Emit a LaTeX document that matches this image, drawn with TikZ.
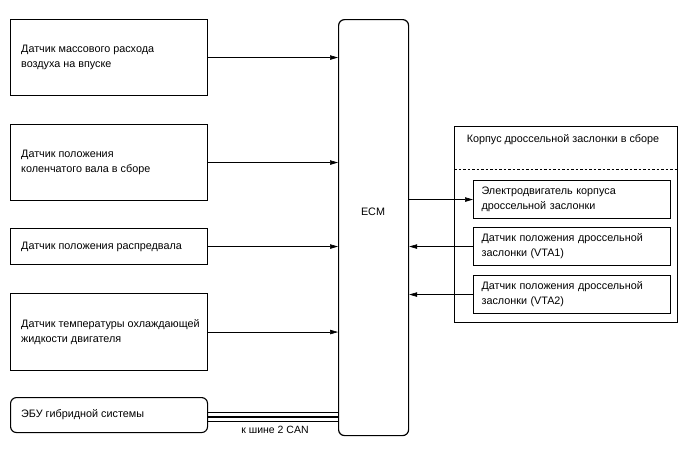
\documentclass[tikz,border=0pt]{standalone}
\usepackage{fontspec}
\setmainfont{Liberation Sans}
\usetikzlibrary{arrows.meta, positioning, calc}

\begin{document}
\begin{tikzpicture}[x=1pt, y=-1pt, every node/.style={font=\fontsize{10.8}{15}\selectfont},
    sensor/.style={draw, line width=1.1pt, rectangle, minimum width=197pt, anchor=north west},
    lbl/.style={anchor=west, align=left, inner sep=0pt, xshift=11pt},
    part/.style={draw, line width=1.1pt, rectangle, minimum width=197pt, minimum height=38pt, inner xsep=8pt, text width=181pt, align=left, anchor=north west},
    sig/.style={line width=0.6pt, -{Triangle[length=8pt, width=4.5pt]}},
    bus/.style={line width=1.5pt}]

    \useasboundingbox (0, 0) rectangle (688, 463);

    % ECM block
    \node[draw, line width=1.2pt, rounded corners=6pt, minimum width=70pt, minimum height=416pt, anchor=north west] (ecm) at (338, 19) {};
    \node at (373, 212) {ECM};

    % sensors on the left
    \node[sensor, minimum height=76pt] (maf) at (10, 19) {};
    \node[lbl] (maftxt) at (maf.west) {Датчик массового расхода\\воздуха на впуске};
    \node[sensor, minimum height=76pt] (ckp) at (10, 124) {};
    \node[lbl] (ckptxt) at (ckp.west) {Датчик положения\\коленчатого вала в сборе};
    \node[sensor, minimum height=36pt] (cmp) at (10, 228) {};
    \node[lbl] (cmptxt) at (cmp.west) {Датчик положения распредвала};
    \node[sensor, minimum height=77pt] (ect) at (10, 293) {};
    \node[lbl] (ecttxt) at (ect.west) {Датчик температуры охлаждающей\\жидкости двигателя};
    \node[sensor, minimum height=35pt, rounded corners=6pt] (hv) at (10, 397) {};
    \node[lbl] (hvtxt) at (hv.west) {ЭБУ гибридной системы};

    \draw[sig] (maf) -- (maf -| ecm.west);
    \draw[sig] (ckp) -- (ckp -| ecm.west);
    \draw[sig] (cmp) -- (cmp -| ecm.west);
    \draw[sig] (ect) -- (ect -| ecm.west);

    % CAN bus
    \foreach \d in {-2.5, 2, 6.5}
        \draw[bus] ([yshift=-\d pt]hv.east) -- ([yshift=-\d pt]hv.east -| ecm.west);
    \node[font=\fontsize{10.5}{12}\selectfont] (can) at (275, 430) {к шине 2 CAN};

    % throttle body assembly
    \node[draw, line width=1.1pt, minimum width=223pt, minimum height=196pt, anchor=north west] (tb) at (454, 126) {};
    \node (tbtitle) at (563, 140) {Корпус дроссельной заслонки в сборе};
    \draw[line width=0.9pt, dash pattern=on 2.5pt off 2pt] ([yshift=-43pt]tb.north west) -- ([yshift=-43pt]tb.north east);

    \node[part] (mot) at (473, 180) {Электродвигатель корпуса\\дроссельной заслонки};
    \node[part] (vta1) at (473, 227) {Датчик положения дроссельной\\заслонки (VTA1)};
    \node[part] (vta2) at (473, 275) {Датчик положения дроссельной\\заслонки (VTA2)};

    \draw[sig] (mot -| ecm.east) -- (mot);
    \draw[sig] (vta1) -- (vta1 -| ecm.east);
    \draw[sig] (vta2) -- (vta2 -| ecm.east);

\end{tikzpicture}
\end{document}
